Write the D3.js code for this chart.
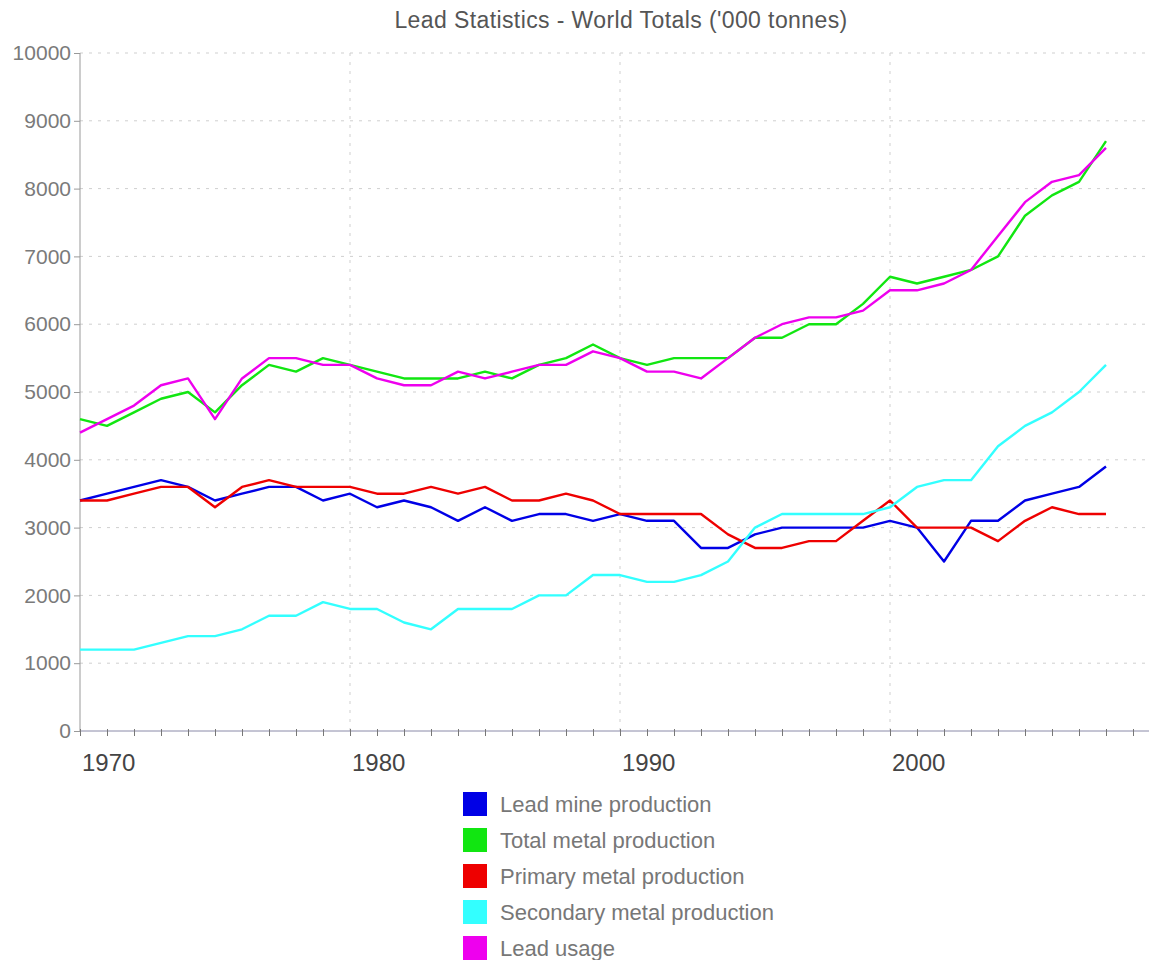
<!DOCTYPE html>
<html>
<head>
<meta charset="utf-8">
<script src="https://cdn.jsdelivr.net/npm/d3@7"></script>
<style>
  html, body { margin: 0; padding: 0; background: #fff; }
  svg { display: block; }
  svg text { font-family: "Liberation Sans", Arial, Helvetica, sans-serif; }
</style>
</head>
<body>
<svg id="chart" width="1149" height="960"></svg>
<script>
// World lead statistics, thousand tonnes, one value per year
const years = d3.range(1970, 2009);

const leadMine = [3400, 3500, 3600, 3700, 3600, 3400, 3500, 3600, 3600, 3400,
                  3500, 3300, 3400, 3300, 3100, 3300, 3100, 3200, 3200, 3100,
                  3200, 3100, 3100, 2700, 2700, 2900, 3000, 3000, 3000, 3000,
                  3100, 3000, 2500, 3100, 3100, 3400, 3500, 3600, 3900];

const totalMetal = [4600, 4500, 4700, 4900, 5000, 4700, 5100, 5400, 5300, 5500,
                    5400, 5300, 5200, 5200, 5200, 5300, 5200, 5400, 5500, 5700,
                    5500, 5400, 5500, 5500, 5500, 5800, 5800, 6000, 6000, 6300,
                    6700, 6600, 6700, 6800, 7000, 7600, 7900, 8100, 8700];

const primaryMetal = [3400, 3400, 3500, 3600, 3600, 3300, 3600, 3700, 3600, 3600,
                      3600, 3500, 3500, 3600, 3500, 3600, 3400, 3400, 3500, 3400,
                      3200, 3200, 3200, 3200, 2900, 2700, 2700, 2800, 2800, 3100,
                      3400, 3000, 3000, 3000, 2800, 3100, 3300, 3200, 3200];

const secondaryMetal = [1200, 1200, 1200, 1300, 1400, 1400, 1500, 1700, 1700, 1900,
                        1800, 1800, 1600, 1500, 1800, 1800, 1800, 2000, 2000, 2300,
                        2300, 2200, 2200, 2300, 2500, 3000, 3200, 3200, 3200, 3200,
                        3300, 3600, 3700, 3700, 4200, 4500, 4700, 5000, 5400];

const leadUsage = [4400, 4600, 4800, 5100, 5200, 4600, 5200, 5500, 5500, 5400,
                   5400, 5200, 5100, 5100, 5300, 5200, 5300, 5400, 5400, 5600,
                   5500, 5300, 5300, 5200, 5500, 5800, 6000, 6100, 6100, 6200,
                   6500, 6500, 6600, 6800, 7300, 7800, 8100, 8200, 8600];

const seriesNames = ["Lead mine production", "Total metal production",
                     "Primary metal production", "Secondary metal production", "Lead usage"];
const seriesColors = ["#0000e6", "#11e611", "#ee0000", "#33ffff", "#ee00ee"];
const seriesValues = [leadMine, totalMetal, primaryMetal, secondaryMetal, leadUsage];

const yTicks = d3.range(0, 10001, 1000);
const xLabelYears = [1970, 1980, 1990, 2000];
const chartTitle = "Lead Statistics - World Totals ('000 tonnes)";

const svg = d3.select("#chart");
const plotLeft = 80, plotRight = 1146.5, plotTop = 53, plotBottom = 731;

const x = d3.scaleLinear().domain([1970, 2009.5]).range([plotLeft, plotRight]);
const y = d3.scaleLinear().domain([0, 10000]).range([plotBottom, plotTop]);

// title
svg.append("text")
  .attr("x", 621).attr("y", 28)
  .attr("text-anchor", "middle")
  .attr("font-size", 23)
  .attr("letter-spacing", 0.4)
  .attr("fill", "#555")
  .text(chartTitle);

// dotted grid
const grid = svg.append("g");
grid.selectAll("line.h").data(yTicks.filter(d => d > 0)).join("line")
  .attr("class", "h")
  .attr("x1", plotLeft).attr("x2", 1149)
  .attr("y1", d => y(d)).attr("y2", d => y(d))
  .attr("stroke", "#cfcfcf").attr("stroke-width", 1)
  .attr("stroke-dasharray", "3,6");
grid.selectAll("line.v").data(xLabelYears.filter(d => d > 1970)).join("line")
  .attr("class", "v")
  .attr("x1", d => x(d)).attr("x2", d => x(d))
  .attr("y1", plotTop).attr("y2", plotBottom)
  .attr("stroke", "#cfcfcf").attr("stroke-width", 1)
  .attr("stroke-dasharray", "3,6");

// y axis
const yAxis = svg.append("g")
  .attr("transform", `translate(${plotLeft},0)`)
  .call(d3.axisLeft(y).tickValues(yTicks).tickSize(6).tickPadding(3).tickFormat(d3.format("d")));
yAxis.select(".domain").attr("stroke", "#999").attr("d", `M0,${plotTop}V${plotBottom}`);
yAxis.selectAll(".tick line").attr("stroke", "#999");
yAxis.selectAll(".tick text")
  .attr("font-family", "Liberation Sans, Arial, sans-serif")
  .attr("font-size", 21).attr("fill", "#7a7a7a");

// x axis: a tick every year, labels every decade starting at the tick
const xAxis = svg.append("g")
  .attr("transform", `translate(0,${plotBottom})`)
  .call(d3.axisBottom(x).tickValues(d3.range(1970, 2010)).tickSize(5).tickFormat(""));
xAxis.select(".domain").attr("stroke", "#8a8aa8").attr("d", `M${plotLeft},0H1149`);
xAxis.selectAll(".tick line").attr("stroke", "#777").attr("y1", -2);

svg.append("g").selectAll("text").data(xLabelYears).join("text")
  .attr("x", d => x(d) + 2)
  .attr("y", 771)
  .attr("font-size", 24)
  .attr("fill", "#444")
  .text(d => d);

// series lines
const line = d3.line()
  .x((d, i) => x(years[i]))
  .y(d => y(d));

svg.append("g").selectAll("path").data(seriesValues).join("path")
  .attr("d", d => line(d))
  .attr("fill", "none")
  .attr("stroke", (d, i) => seriesColors[i])
  .attr("stroke-width", 2.4)
  .attr("stroke-linejoin", "round");

// legend
const legend = svg.append("g").attr("transform", "translate(463,792)");
const item = legend.selectAll("g").data(seriesNames).join("g")
  .attr("transform", (d, i) => `translate(0,${i * 36})`);
item.append("rect")
  .attr("width", 24).attr("height", 24)
  .attr("fill", (d, i) => seriesColors[i]);
item.append("text")
  .attr("x", 37).attr("y", 19.5)
  .attr("font-size", 22)
  .attr("fill", "#777")
  .text(d => d);
</script>
</body>
</html>
